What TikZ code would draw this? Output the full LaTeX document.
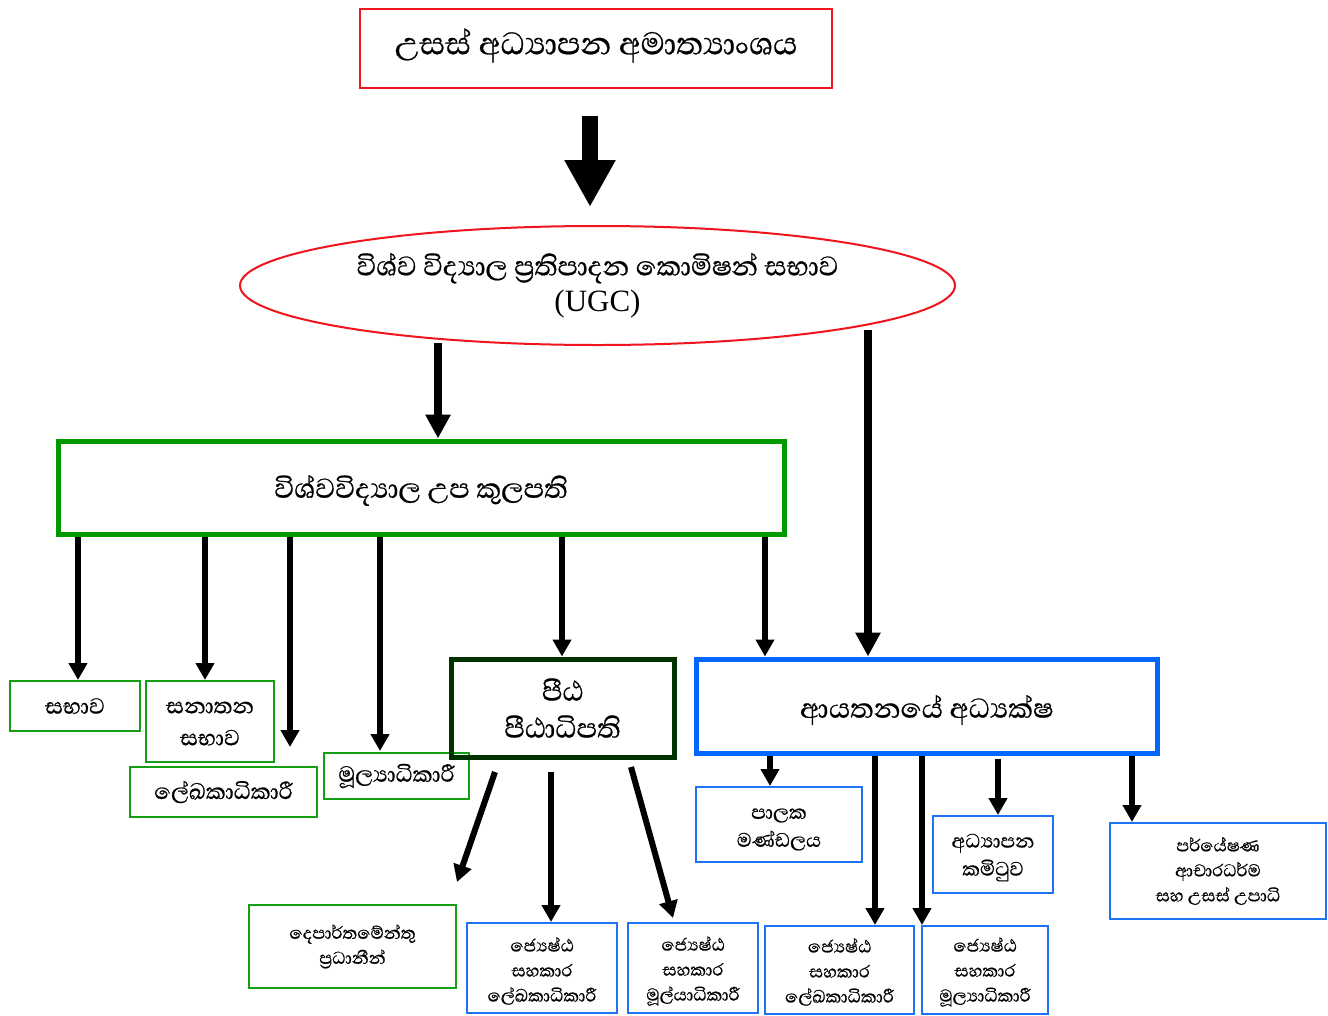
\documentclass[tikz,border=0pt]{standalone}
\usepackage{fontspec}
\setmainfont{Liberation Serif}
\newfontfamily\si[Script=Sinhala,FakeBold=0.6]{Abhaya Libre}
\usetikzlibrary{arrows.meta,shapes.geometric}
\definecolor{rd}{RGB}{240,20,30}
\definecolor{gn}{RGB}{0,153,0}
\definecolor{gnt}{RGB}{20,160,20}
\definecolor{dg}{RGB}{0,51,0}
\definecolor{bl}{RGB}{0,102,255}
\definecolor{blt}{RGB}{30,115,245}
\newcommand{\shiftv}[2]{\raisebox{#1}[\height][\depth]{#2}}
\begin{document}
\begin{tikzpicture}[x=1pt,y=-1pt,
  bx/.style={draw, rectangle, inner sep=0pt, align=center, text=black},
  thin g/.style={bx, draw=gnt, line width=2pt},
  thin b/.style={bx, draw=blt, line width=2pt},
  big/.style={line width=16pt, -{Triangle[width=48pt,length=47pt]}},
  mid/.style={line width=8pt, -{Triangle[width=24pt,length=24pt]}},
  sml/.style={line width=6pt, -{Triangle[width=18pt,length=17pt]}},
  f1/.style={font=\si\fontsize{40}{44}\selectfont},
  f2/.style={font=\si\fontsize{35}{37}\selectfont},
  f3/.style={font=\si\fontsize{28}{32}\selectfont},
  fp/.style={font=\si\fontsize{25}{28}\selectfont},
  f4/.style={font=\si\fontsize{22}{25}\selectfont}]
\useasboundingbox (0,0) rectangle (1328,1015);
\fill[white] (0,0) rectangle (1328,1015);

% nodes
\node[bx, draw=rd, line width=2pt, minimum width=472pt, minimum height=79pt, f1] (min) at (596,48.5) {\shiftv{3pt}{උසස් අධ්‍යාපන අමාත්‍යාංශය}};
\node[draw=rd, line width=2pt, ellipse, inner sep=0pt, minimum width=715pt, minimum height=119pt, align=center,
  font=\fontsize{31}{36}\selectfont] (ugc) at (597.5,285.5)
  {{\si\fontsize{34.5}{36}\selectfont විශ්ව විද්‍යාල ප්‍රතිපාදන කොමිෂන් සභාව}\\(UGC)};
\node[bx, draw=gn, line width=5pt, minimum width=726pt, minimum height=93pt, f2] (vc) at (421,487.5) {\shiftv{-3pt}{විශ්වවිද්‍යාල උප කුලපති}};

\node[thin g, minimum width=130pt, minimum height=50pt, f3] (sabha) at (75,706) {සභාව};
\node[thin g, minimum width=128pt, minimum height=81pt, f3] (sena) at (210,721.5) {\shiftv{-2pt}{සනාතන}\\ \shiftv{-2pt}{සභාව}};
\node[thin g, minimum width=187pt, minimum height=50pt, f3] (lekh) at (223.5,792) {ලේඛකාධිකාරී};
\node[thin g, minimum width=145pt, minimum height=46pt, f3] (mul) at (396.5,776) {මූල්‍යාධිකාරී};

\node[bx, draw=dg, line width=5pt, minimum width=223pt, minimum height=98pt, f2] (fac) at (562.5,708) {පීඨ\\ පීඨාධිපති};
\node[bx, draw=bl, line width=5pt, minimum width=461pt, minimum height=94pt, f2] (dir) at (926.5,706) {\shiftv{-4pt}{ආයතනයේ අධ්‍යක්ෂ}};

\node[thin b, minimum width=166pt, minimum height=75pt, fp] (pal) at (779,824.5) {\shiftv{-5pt}{පාලක}\\ \shiftv{-5pt}{මණ්ඩලය}};
\node[thin b, minimum width=120pt, minimum height=77pt, fp] (adh) at (993,854.5) {\shiftv{-3pt}{අධ්‍යාපන}\\ \shiftv{-3pt}{කමිටුව}};
\node[thin b, minimum width=216pt, minimum height=96pt, f4] (par) at (1218,871) {පර්යේෂණ\\ ආචාරධර්ම\\ සහ උසස් උපාධි};

\node[thin g, minimum width=207pt, minimum height=83pt, f4] (dep) at (352.5,946.5) {දෙපාර්තමේන්තු\\ ප්‍රධානීන්};
\node[thin b, minimum width=150pt, minimum height=90pt, f4] (j1) at (542,968) {\shiftv{-3pt}{ජ්‍යෙෂ්ඨ}\\ \shiftv{-3pt}{සහකාර}\\ \shiftv{-3pt}{ලේඛකාධිකාරී}};
\node[thin b, minimum width=130pt, minimum height=90pt, f4] (j2) at (693,968) {\shiftv{-3pt}{ජ්‍යෙෂ්ඨ}\\ \shiftv{-3pt}{සහකාර}\\ \shiftv{-3pt}{මූල්යාධිකාරී}};
\node[thin b, minimum width=149pt, minimum height=88pt, f4] (j3) at (839.5,970) {\shiftv{-2pt}{ජ්‍යෙෂ්ඨ}\\ \shiftv{-2pt}{සහකාර}\\ \shiftv{-2pt}{ලේඛකාධිකාරී}};
\node[thin b, minimum width=126pt, minimum height=88pt, f4] (j4) at (985,970) {\shiftv{-2pt}{ජ්‍යෙෂ්ඨ}\\ \shiftv{-2pt}{සහකාර}\\ \shiftv{-2pt}{මූල්‍යාධිකාරී}};

% connector free ends
\coordinate (u1) at (438,343);
\coordinate (u2) at (868,330);
\coordinate (fa) at (495,772);
\coordinate (fb) at (551,772);
\coordinate (fc) at (631,767);
\coordinate (da) at (457,882);
\coordinate (la) at (290,747);
\coordinate (ma) at (380,751);

% connectors
\draw[big, shorten <=27pt, shorten >=18pt] (min.south -| 590,0) -- (ugc.north -| 590,0);
\draw[mid] (u1) -- (vc.north -| u1);
\draw[mid] (u2) -- (dir.north -| u2);

\draw[sml] (vc.south -| 78,0) -- (sabha.north -| 78,0);
\draw[sml] (vc.south -| 205,0) -- (sena.north -| 205,0);
\draw[sml] (vc.south -| la) -- (la);
\draw[sml] (vc.south -| ma) -- (ma);
\draw[sml] (vc.south -| 562,0) -- (fac.north -| 562,0);
\draw[sml] (vc.south -| 765,0) -- (dir.north -| 765,0);

\draw[sml] (fa) -- (da);
\draw[sml] (fb) -- (j1.north -| fb) ;
\draw[sml] (fc) -- (673,918);

\draw[sml] (dir.south -| 770,0) -- (pal.north -| 770,0);
\draw[sml] (dir.south -| 875,0) -- (j3.north -| 875,0);
\draw[sml] (dir.south -| 922,0) -- (j4.north -| 922,0);
\draw[sml, shorten <=3pt] (dir.south -| 998,0) -- (adh.north -| 998,0);
\draw[sml] (dir.south -| 1132,0) -- (par.north -| 1132,0);
\end{tikzpicture}
\end{document}
